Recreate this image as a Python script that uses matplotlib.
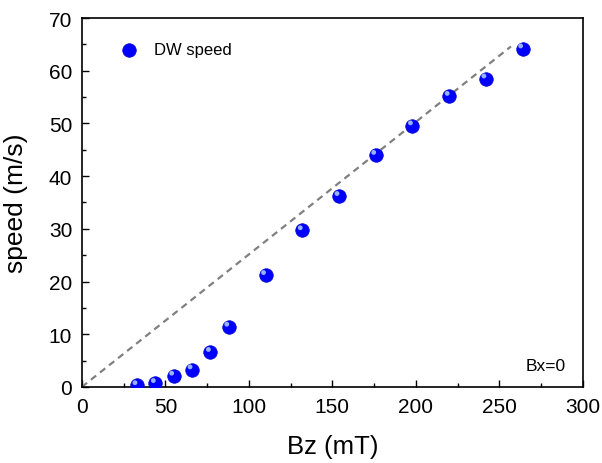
import matplotlib
matplotlib.use("Agg")
import matplotlib.pyplot as plt
from matplotlib.ticker import MultipleLocator

plt.rcParams['font.family'] = ['Liberation Sans', 'DejaVu Sans']

bz = [33, 44, 55, 66, 77, 88, 110, 132, 154, 176, 198, 220, 242, 264]
speed = [0.3, 0.7, 2.1, 3.3, 6.6, 11.4, 21.2, 29.7, 36.2, 44.0, 49.6, 55.2, 58.5, 64.2]
fit_x = [0, 257]
fit_y = [0, 64.6]

fig = plt.figure(figsize=(6.02, 4.64), dpi=100)
ax = fig.add_axes([0.136, 0.164, 0.832, 0.795])

ax.plot(fit_x, fit_y, linestyle=(0, (3, 2.2)), color='#808080', linewidth=1.6, zorder=2)
ax.scatter(bz, speed, s=95, color='#0000ff', edgecolors='#0000cc', linewidths=0.5, zorder=3, label='DW speed')
hx = [x - 1.2 for x in bz]
hy = [y + 0.5 for y in speed]
ax.scatter(hx, hy, s=12, color='#a8c8ff', edgecolors='none', zorder=4, alpha=0.9)

ax.set_xlim(0, 300)
ax.set_ylim(0, 70)
ax.xaxis.set_major_locator(MultipleLocator(50))
ax.xaxis.set_minor_locator(MultipleLocator(25))
ax.yaxis.set_major_locator(MultipleLocator(10))
ax.yaxis.set_minor_locator(MultipleLocator(5))
ax.tick_params(which='both', direction='in', top=False, right=False, labelsize=15)
ax.tick_params(which='major', length=5, width=1, pad=7)
ax.tick_params(which='minor', length=3, width=1)
for s in ax.spines.values():
    s.set_linewidth(1.2)

ax.set_xlabel('Bz (mT)', fontsize=18.5, labelpad=13)
ax.set_ylabel('speed (m/s)', fontsize=19, labelpad=15)

ax.text(0.966, 0.046, 'Bx=0', transform=ax.transAxes, fontsize=12.5, ha='right', va='baseline')

leg = ax.legend(loc='upper left', frameon=False, fontsize=12, handletextpad=0.5,
                bbox_to_anchor=(0.03, 0.975), scatterpoints=1)

fig.savefig('out.png', dpi=100)
